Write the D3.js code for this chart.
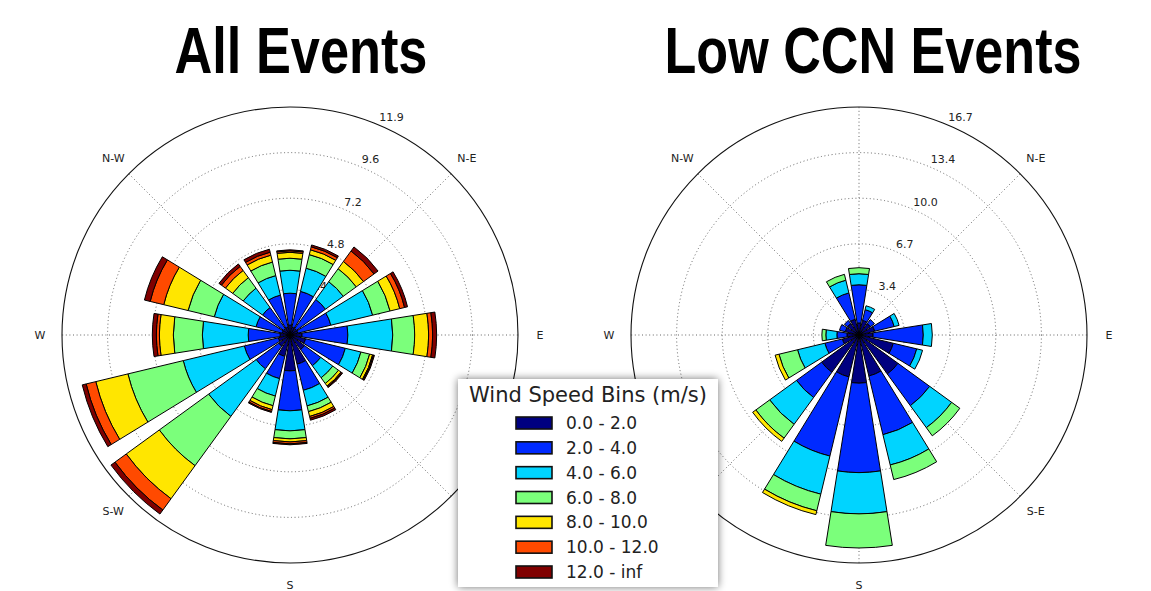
<!DOCTYPE html>
<html>
<head>
<meta charset="utf-8">
<script src="https://cdn.jsdelivr.net/npm/d3@7"></script>
<style>
body{margin:0;background:#fff;}
svg{display:block;}
</style>
</head>
<body>
<script>
// 16 sectors, clockwise from north
const dirs = ["N","NNE","NE","ENE","E","ESE","SE","SSE","S","SSW","SW","WSW","W","WNW","NW","NNW"];
const binLabels = ["0.0 - 2.0","2.0 - 4.0","4.0 - 6.0","6.0 - 8.0","8.0 - 10.0","10.0 - 12.0","12.0 - inf"];
const binColors = ["#000080","#002aff","#00d4ff","#7bff7b","#ffe600","#ff4a00","#800000"];
const compassLabels = [["E",90],["N-E",45],["N-W",315],["W",270],["S-W",225],["S",180],["S-E",135]];

// All Events: frequency (%) per speed bin
const all_0_2   = [0.52,0.42,0.42,0.42,0.63,0.84,0.94,1.57,1.88,1.15,0.73,0.63,0.52,0.42,0.42,0.42];
const all_2_4   = [1.67,1.93,1.88,1.78,2.40,2.14,1.05,1.41,2.09,1.20,1.46,1.83,1.67,1.41,1.36,1.73];
const all_4_6   = [1.20,1.25,1.15,2.25,2.35,0.84,0.78,0.84,1.05,0.94,3.08,3.29,2.40,2.25,1.25,1.05];
const all_6_8   = [0.63,0.73,0.84,0.94,1.15,0.47,0.37,0.31,0.42,0.52,3.19,2.98,1.52,1.41,0.68,0.73];
const all_8_10  = [0.31,0.26,0.47,0.52,0.73,0.16,0.16,0.26,0.16,0.21,2.14,1.73,0.73,1.31,0.47,0.37];
const all_10_12 = [0.08,0.16,0.68,0.26,0.21,0.05,0.05,0.10,0.10,0.10,0.73,0.52,0.16,0.73,0.26,0.16];
const all_12_inf= [0.05,0.10,0.26,0.16,0.21,0.05,0.05,0.10,0.05,0.05,0.26,0.21,0.21,0.31,0.16,0.16];
const allTicks = ["2.4","4.8","7.2","9.6","11.9"];
const allMax = 11.94;

// Low CCN Events
const low_0_2   = [0.88,1.10,1.03,1.18,1.03,2.58,3.53,3.09,3.53,3.16,3.38,1.25,0.88,1.03,1.03,1.18];
const low_2_4   = [2.80,0.81,0.37,1.47,3.68,1.77,2.87,4.42,6.55,5.96,2.28,1.32,0.74,0.44,0.29,1.99];
const low_4_6   = [0.81,0.29,0,0.37,0.66,0.44,1.99,2.28,3.02,2.87,2.43,2.06,0.81,0,0,0.96];
const low_6_8   = [0.44,0,0,0,0,0,0.74,1.10,2.50,1.25,1.25,1.40,0.29,0,0,0.44];
const low_8_10  = [0,0,0,0,0,0,0,0,0,0.29,0.29,0.29,0,0,0,0];
const low_10_12 = [0,0,0,0,0,0,0,0,0,0,0,0,0,0,0,0];
const low_12_inf= [0,0,0,0,0,0,0,0,0,0,0,0,0,0,0,0];
const lowTicks = ["3.4","6.7","10.0","13.4","16.7"];
const lowMax = 16.7;

const W = 1151, H = 591, R = 228;
const svg = d3.select("body").append("svg").attr("width",W).attr("height",H)
  .style("font-family","'DejaVu Sans', sans-serif");

const keys = d3.range(7);
function rows(bins){
  return dirs.map((d,i)=>{ let o={dir:d,i:i}; bins.forEach((b,k)=>o[k]=b[i]); return o; });
}

function rose(cx, cy, bins, rMax, ticks, title, titleX, titleLen, drawNS){
  const g = svg.append("g").attr("transform",`translate(${cx},${cy})`);
  const r = d3.scaleLinear().domain([0,rMax]).range([0,R]);
  const sector = 2*Math.PI/dirs.length, width = sector*0.8;

  // grid
  const tickVals = d3.range(1,6).map(k=>rMax*k/5);
  g.selectAll("circle.grid").data(tickVals.slice(0,4)).enter().append("circle")
    .attr("r",d=>r(d)).attr("fill","none").attr("stroke","#555")
    .attr("stroke-width",0.9).attr("stroke-dasharray","1,2.6");
  const spokes = d3.range(0,360,45).filter(a=>drawNS || (a!==0 && a!==180));
  g.selectAll("line.spoke").data(spokes).enter().append("line")
    .attr("x1",0).attr("y1",0)
    .attr("x2",a=>R*Math.sin(a*Math.PI/180)).attr("y2",a=>-R*Math.cos(a*Math.PI/180))
    .attr("stroke","#555").attr("stroke-width",0.9).attr("stroke-dasharray","1,2.6");
  g.append("circle").attr("r",R).attr("fill","none").attr("stroke","#111").attr("stroke-width",1.1);

  // radial tick labels
  const la = 22.5*Math.PI/180;
  g.selectAll("text.rt").data(tickVals).enter().append("text")
    .attr("x",(d)=>r(d)*Math.sin(la)+2).attr("y",(d)=>-r(d)*Math.cos(la)-3)
    .attr("font-size",11).attr("fill","#222").text((d,i)=>ticks[i]);

  // compass labels
  g.selectAll("text.cl").data(compassLabels).enter().append("text")
    .attr("x",d=>250*Math.sin(d[1]*Math.PI/180)).attr("y",d=>-250*Math.cos(d[1]*Math.PI/180))
    .attr("text-anchor","middle").attr("dominant-baseline","central")
    .attr("font-size",11).attr("fill","#222").text(d=>d[0]);

  // stacked bars
  const stacked = d3.stack().keys(keys)(rows(bins));
  const arc = d3.arc();
  stacked.forEach((layer,k)=>{
    g.selectAll(null).data(layer.filter(d=>d[1]-d[0]>0)).enter().append("path")
      .attr("d",d=>{
        const a = d.data.i*sector;
        return arc({innerRadius:r(d[0]),outerRadius:r(d[1]),startAngle:a-width/2,endAngle:a+width/2});
      })
      .attr("fill",binColors[k]).attr("stroke","#000").attr("stroke-width",1);
  });

  // title, squeezed horizontally to the condensed look of the original
  const t = svg.append("text").attr("text-anchor","middle")
    .attr("font-family","'Liberation Sans', Arial, sans-serif").attr("font-weight","bold")
    .attr("font-size",64).attr("fill","#000").text(title);
  const sx = titleLen / t.node().getComputedTextLength();
  t.attr("transform",`translate(${titleX},73) scale(${sx},1)`);
}

rose(290,335,[all_0_2,all_2_4,all_4_6,all_6_8,all_8_10,all_10_12,all_12_inf],allMax,allTicks,"All Events",301,253,false);
rose(859,335,[low_0_2,low_2_4,low_4_6,low_6_8,low_8_10,low_10_12,low_12_inf],lowMax,lowTicks,"Low CCN Events",873,417,true);

// legend
const defs = svg.append("defs");
defs.append("filter").attr("id","shadow").attr("x","-20%").attr("y","-20%").attr("width","140%").attr("height","140%")
  .append("feGaussianBlur").attr("stdDeviation",4);
const lg = svg.append("g").attr("transform","translate(458,379)");
lg.append("rect").attr("width",260).attr("height",208).attr("fill","#000").attr("opacity",0.55)
  .attr("filter","url(#shadow)");
lg.append("rect").attr("width",260).attr("height",208).attr("fill","#fff");
lg.append("text").attr("x",130).attr("y",23).attr("text-anchor","middle")
  .attr("font-size",21).attr("fill","#222").text("Wind Speed Bins (m/s)");
const ly = d3.scaleLinear().domain([0,6]).range([44,193]);
const item = lg.selectAll("g.item").data(binLabels).enter().append("g")
  .attr("transform",(d,i)=>`translate(0,${ly(i)})`);
item.append("rect").attr("x",58).attr("y",-6).attr("width",36).attr("height",12)
  .attr("fill",(d,i)=>binColors[i]).attr("stroke","#111").attr("stroke-width",1.6);
item.append("text").attr("x",108).attr("y",0).attr("dominant-baseline","central")
  .attr("font-size",17).attr("fill","#222").text(d=>d);
</script>
</body>
</html>
